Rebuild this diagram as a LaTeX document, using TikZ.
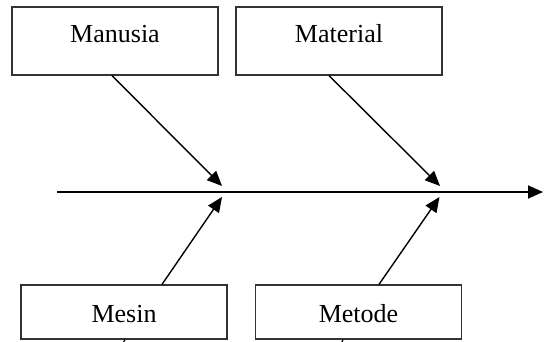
\documentclass[tikz,border=0pt]{standalone}
\usepackage{fontspec}
\setmainfont{Liberation Serif}
\usetikzlibrary{arrows.meta}

\begin{document}
\begin{tikzpicture}[x=1pt, y=-1pt, -{Triangle[length=15pt,width=13pt]}, line width=1.4pt]
  \tikzstyle{cause}=[-,draw=black!80,line width=1.2pt,fill=white,text=black,rectangle,inner sep=0pt,font=\fontsize{26}{30}\selectfont]
  \tikzstyle{topcause}=[cause,minimum width=206pt,text height=36pt,text depth=32pt]
  \tikzstyle{botcause}=[cause,minimum width=206pt,text height=37pt,text depth=17pt]

  \useasboundingbox (0,0) rectangle (544,342);

  \node[topcause]	(manusia)	at (115,41)	{Manusia};
  \node[topcause]	(material)	at (339,41)	{Material};
  \node[botcause]	(mesin)		at (124,312)	{Mesin};
  \node[botcause]	(metode)	at (358.5,312)	{Metode};

  \coordinate (spinestart) at (57,192);
  \coordinate (spineend)   at (543,192);
  \coordinate (jointAup)   at (222,186);
  \coordinate (jointAdn)   at (222,197);
  \coordinate (jointBup)   at (440,186);
  \coordinate (jointBdn)   at (439.5,197);
  \coordinate (mesintail)  at (122.5,344);
  \coordinate (metodetail) at (341,344);

  \draw[line width=1.7pt] (spinestart) -- (spineend);

  \path ([xshift=-3pt]manusia.south) edge (jointAup);
  \path ([xshift=-10pt]material.south) edge (jointBup);
  \path ([xshift=38pt]mesin.north) edge (jointAdn);
  \path ([xshift=20.5pt]metode.north) edge (jointBdn);

  \draw[-,line width=1.2pt] ([xshift=1pt]mesin.south) -- (mesintail);
  \draw[-,line width=1.2pt] ([xshift=-15.5pt]metode.south) -- (metodetail);

\end{tikzpicture}
\end{document}
